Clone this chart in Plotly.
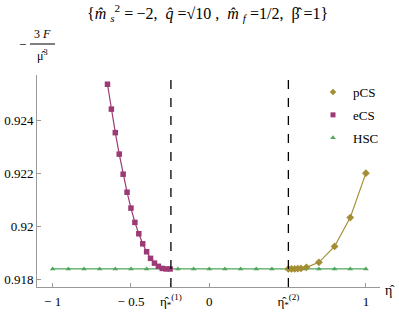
import plotly.graph_objects as go

# ---- data ----
eta1 = -0.245
eta2 = 0.505

ecs_x = [-0.65, -0.625, -0.6, -0.575, -0.55, -0.525, -0.5, -0.475, -0.45, -0.425,
         -0.4, -0.375, -0.35, -0.325, -0.3, -0.275, -0.25]
ecs_y = [0.92536, 0.92442, 0.92353, 0.92272, 0.92196, 0.92128, 0.92068, 0.92014,
         0.91971, 0.91933, 0.91903, 0.91878, 0.91860, 0.91848, 0.91840, 0.91838, 0.91838]

pcs_x = [0.505, 0.525, 0.545, 0.565, 0.585, 0.62, 0.7, 0.8, 0.9, 1.0]
pcs_y = [0.91838, 0.91838, 0.91838, 0.91839, 0.91840, 0.91844, 0.91863, 0.91923, 0.92032, 0.92200]

hsc_x = [-1.0, -0.9, -0.8, -0.7, -0.6, -0.5, -0.4, -0.3, -0.2, -0.1, 0.0,
         0.1, 0.2, 0.3, 0.4, 0.5, 0.6, 0.7, 0.8, 0.9, 1.0]
hsc_y = [0.91838] * len(hsc_x)

x_tickvals = [-1, -0.5, eta1, 0, eta2, 1]
x_ticktext = ["\u2212 1", "\u2212 0.5", "\u03b7\u0302<sub>*</sub><sup>(1)</sup>", "0",
              "\u03b7\u0302<sub>*</sub><sup>(2)</sup>", "1"]
y_tickvals = [0.918, 0.920, 0.922, 0.924]
y_ticktext = ["0.918", "0.92", "0.922", "0.924"]

c_ecs = "#9B3A74"
c_pcs = "#A48E34"
c_hsc = "#4FA65C"
FONT = "Liberation Serif"

fig = go.Figure()
fig.add_trace(go.Scatter(x=hsc_x, y=hsc_y, mode="lines+markers", name="HSC",
                         line=dict(color=c_hsc, width=1.2),
                         marker=dict(symbol="triangle-up", size=5, color=c_hsc),
                         showlegend=False))
fig.add_trace(go.Scatter(x=ecs_x, y=ecs_y, mode="lines+markers", name="eCS",
                         line=dict(color=c_ecs, width=1.2),
                         marker=dict(symbol="square", size=5.5, color=c_ecs),
                         showlegend=False))
fig.add_trace(go.Scatter(x=pcs_x, y=pcs_y, mode="lines+markers", name="pCS",
                         line=dict(color=c_pcs, width=1.2),
                         marker=dict(symbol="diamond", size=6, color=c_pcs),
                         showlegend=False))

# legend-only entries (markers only, like the reference legend)
for nm, col, sym, sz, grp in [("pCS", c_pcs, "diamond", 5, "a"),
                              ("eCS", c_ecs, "square", 5, "b"),
                              ("HSC", c_hsc, "triangle-up", 5, "c")]:
    fig.add_trace(go.Scatter(x=[None], y=[None], mode="markers", name=nm,
                             marker=dict(symbol=sym, size=sz, color=col),
                             legendgroup=grp, showlegend=True))

for e in (eta1, eta2):
    fig.add_shape(type="line", x0=e, x1=e, y0=0, y1=1, xref="x", yref="paper",
                  line=dict(color="black", width=1.3, dash="dash"))

W, H = 399, 312
L, R, T, B = 37, 19, 75, 25
pw, ph = W - L - R, H - T - B

fig.update_layout(
    width=W, height=H,
    margin=dict(l=L, r=R, t=T, b=B, autoexpand=False),
    paper_bgcolor="white", plot_bgcolor="white",
    font=dict(family=FONT, size=13, color="black"),
    legend=dict(x=(313 - L) / pw, y=(H - B - 77) / ph, xanchor="left", yanchor="top",
                bgcolor="rgba(0,0,0,0)", font=dict(family=FONT, size=13),
                itemwidth=30, tracegroupgap=3, traceorder="grouped"),
    xaxis=dict(range=[-1.1, 1.09], showgrid=False, zeroline=False, automargin=False,
               showline=True, linecolor="#999999", linewidth=1,
               ticks="inside", ticklen=4, tickcolor="#999999",
               tickvals=x_tickvals, ticktext=x_ticktext,
               tickfont=dict(family=FONT, size=13), ticklabelstandoff=2),
    yaxis=dict(range=[0.917698, 0.925709], showgrid=False, zeroline=False, automargin=False,
               showline=True, linecolor="#999999", linewidth=1,
               ticks="inside", ticklen=4, tickcolor="#999999",
               tickvals=y_tickvals, ticktext=y_ticktext,
               tickfont=dict(family=FONT, size=13)),
)

title = ("{<i>m\u0302</i> <sub><i>s</i></sub><sup>2</sup> =\u2009\u22122,\u2002"
         "<i>q\u0302</i> =\u221a10 ,\u2002"
         "<i>m\u0302</i> <sub><i>f</i></sub> =1/2,\u2002"
         "\u03b2\u0302 =1}")
fig.add_annotation(text=title, x=207, y=13, showarrow=False,
                   font=dict(family=FONT, size=16))

fig.add_annotation(text="\u03b7\u0302", x=390, y=290, showarrow=False,
                   font=dict(family=FONT, size=14))

# y-axis label as fraction -3F/mu^3
fig.add_annotation(text="\u2212", x=22, y=44, showarrow=False, font=dict(family=FONT, size=13))
fig.add_annotation(text="3 <i>F</i>", x=42, y=34, showarrow=False, font=dict(family=FONT, size=12))
fig.add_annotation(text="\u03bc\u0302<sup>3</sup>", x=42, y=55, showarrow=False,
                   font=dict(family=FONT, size=12))
fig.add_shape(type="line", x0=30, x1=55, y0=44, y1=44, xref="paper", yref="paper",
              line=dict(color="black", width=1))

# convert pixel positions of annotations/shapes to paper coordinates
for a in fig.layout.annotations:
    a.x = (a.x - L) / pw
    a.y = (H - B - a.y) / ph
    a.xref = "paper"; a.yref = "paper"
    a.xanchor = "center"; a.yanchor = "middle"
for s in fig.layout.shapes:
    if s.xref == "paper" and s.yref == "paper":
        s.x0 = (s.x0 - L) / pw; s.x1 = (s.x1 - L) / pw
        s.y0 = (H - B - s.y0) / ph; s.y1 = (H - B - s.y1) / ph

fig.write_html("out.html", config={"displayModeBar": False},
               post_script="document.body.style.margin='0';")
